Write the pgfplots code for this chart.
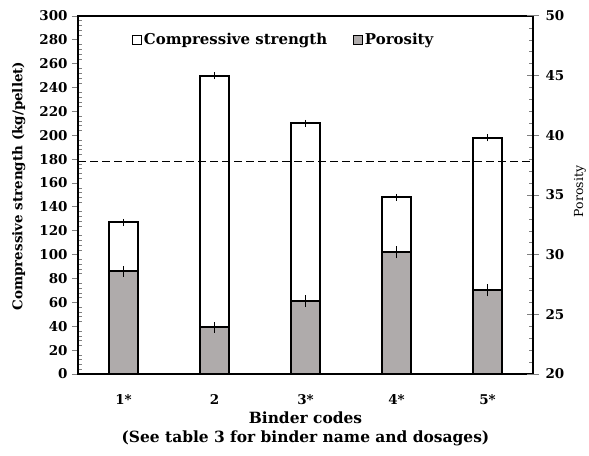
\documentclass[border=0pt]{standalone}
\usepackage{fontspec}
\setmainfont{DejaVu Serif}
\usepackage{pgfplots}
\pgfplotsset{compat=1.18}
\definecolor{porgray}{HTML}{AFABAB}
\newcommand{\tickfont}{\fontsize{13.5}{15}\selectfont\bfseries}
\newcommand{\legfont}{\fontsize{15}{17}\selectfont\bfseries}
\newcommand{\xlabfont}{\fontsize{15.5}{19.5}\selectfont\bfseries}
\newcommand{\ylabfont}{\fontsize{13.5}{15}\selectfont\bfseries}
\begin{document}
\begin{tikzpicture}[font=\tickfont]
\begin{axis}[
  scale only axis, width=455bp, height=358bp,
  xmin=-0.5, xmax=4.5, ymin=0, ymax=300,
  axis line style={line width=1.5pt},
  xtick={0,1,2,3,4}, xticklabels={1*,2,3*,4*,5*},
  xtick style={draw=none},
  ytick={0,20,...,300}, minor y tick num=4,
  ytick pos=left, tick align=outside,
  major tick length=6bp, minor tick length=3.5bp,
  every minor tick/.append style={xshift=3.5bp, line width=0.6pt},
  every major tick/.append style={line width=1pt},
  /pgf/number format/assume math mode=true,
  ticklabel style={font=\tickfont},
  xticklabel style={anchor=center, yshift=-20bp},
  yticklabel style={anchor=east, xshift=-1bp},
  xlabel={Binder codes\\(See table 3 for binder name and dosages)},
  xlabel style={font=\xlabfont, align=center, at={(axis description cs:0.5,0)}, anchor=center, yshift=-55bp},
  ylabel={Compressive strength (kg/pellet)},
  ylabel style={font=\ylabfont, at={(axis description cs:-0.13,0.525)}, anchor=center},
  legend style={draw=none, fill=none, at={(54bp,334bp)}, anchor=west, legend columns=2,
    inner xsep=0pt, inner ysep=0pt,
    /tikz/every even column/.append style={column sep=24bp},
    font=\legfont},
  legend cell align=left,
  legend image code/.code={\draw[#1, line width=0.8pt] (0bp,-4.5bp) rectangle (9bp,4.5bp);},
]
\addplot[ybar, bar width=29bp, fill=white, draw=black, line width=2pt,
  error bars/.cd, y dir=both, y explicit, error bar style={line width=1pt, black}, error mark=none]
  coordinates {(0,127) +- (0,3) (1,250) +- (0,3) (2,210) +- (0,3) (3,148) +- (0,3) (4,198) +- (0,3)};
\addlegendentry{Compressive strength}
\addlegendimage{fill=porgray, draw=black}
\addlegendentry{Porosity}
\addplot[black, line width=1.8pt, dash pattern=on 7.5bp off 4.5bp, forget plot] coordinates {(-0.5,178) (4.5,178)};
\end{axis}
\begin{axis}[
  scale only axis, width=455bp, height=358bp,
  xmin=-0.5, xmax=4.5, ymin=20, ymax=50,
  axis x line=none, axis y line*=right,
  axis line style={line width=1.5pt},
  ytick={20,25,...,50}, minor y tick num=4,
  tick align=center,
  major tick length=12bp, minor tick length=4bp,
  every minor tick/.append style={xshift=-2bp, line width=0.6pt},
  every major tick/.append style={line width=1pt},
  /pgf/number format/assume math mode=true,
  ticklabel style={font=\tickfont},
  yticklabel style={anchor=west, xshift=3bp},
  ylabel={Porosity},
  ylabel style={font=\fontsize{12.5}{14}\selectfont, at={(axis description cs:1.103,0.51)}, anchor=center},
]
\addplot[ybar, bar width=29bp, fill=porgray, draw=black, line width=2pt,
  error bars/.cd, y dir=both, y explicit, error bar style={line width=1pt, black}, error mark=none]
  coordinates {(0,28.6) +- (0,0.45) (1,23.9) +- (0,0.45) (2,26.1) +- (0,0.5) (3,30.2) +- (0,0.5) (4,27.0) +- (0,0.5)};
\end{axis}
\pgfresetboundingbox
\path[use as bounding box] (-78bp,-82bp) rectangle (511bp,374bp);
\end{tikzpicture}
\end{document}
